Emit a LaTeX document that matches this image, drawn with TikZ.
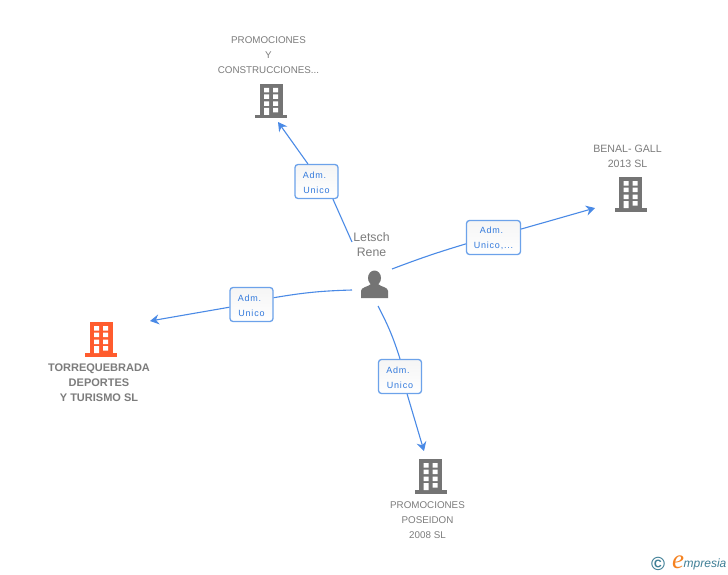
\documentclass[tikz,border=0pt]{standalone}
\usepackage{fontspec}
\setmainfont{Liberation Sans}
\newfontfamily\Sboxfont[LetterSpace=9]{Liberation Sans}
\newfontfamily\Slogofont{Liberation Serif}
\usetikzlibrary{arrows.meta}
\definecolor{darkgrey}{HTML}{7C7C7C}
\definecolor{icongrey}{HTML}{747474}
\definecolor{iconred}{HTML}{FF5C2E}
\definecolor{linkblue}{HTML}{4A8AE6}
\definecolor{boxblue}{HTML}{6CA2EA}
\definecolor{textblue}{HTML}{3279DC}
\definecolor{logoteal}{HTML}{3F7F96}
\definecolor{logoorange}{HTML}{F58220}
\newcommand{\Sadm}{\rule{0pt}{9pt}Adm.\kern4pt}
\tikzset{
  firm/.style={align=center,text=darkgrey,inner sep=0pt,font=\fontsize{9.8}{15}\selectfont},
  mainfirm/.style={firm,font=\fontsize{11}{15}\selectfont\bfseries},
  role/.style={draw=boxblue,line width=1.3pt,rounded corners=3pt,top color=black!4,bottom color=white,
    minimum height=34pt,inner sep=0pt,align=center,text=textblue,font=\fontsize{9}{15}\selectfont\Sboxfont},
  link/.style={linkblue,line width=1.1pt},
  linkarrow/.style={link,-{Stealth[length=9pt,width=10pt,inset=3pt]}},
  building/.pic={
    \fill (-11.5,-17) rectangle (11.5,15);
    \fill (-16,14) rectangle (16,17.5);
    \fill[white] (-7,-13) rectangle (-2,-8.5) (2,-13) rectangle (7,-8.5);
    \fill[white] (-7,-6.5) rectangle (-2,-2) (2,-6.5) rectangle (7,-2);
    \fill[white] (-7,0.5) rectangle (-2,5) (2,0.5) rectangle (7,5);
    \fill[white] (-7,7) rectangle (-2,14) (2,7) rectangle (7,11.5);
  }
}
\begin{document}
\begin{tikzpicture}[x=1pt,y=-1pt]
\useasboundingbox[fill=white] (0,0) rectangle (728,575);
% buildings
\pic[icongrey] at (271,101) {building};
\pic[icongrey] at (630.5,194) {building};
\pic[icongrey] at (430.5,476) {building};
\pic[iconred] at (101,339) {building};
%
\fill[icongrey] (374.5,278) ellipse (6.5 and 7.5);
\fill[icongrey] (361,298) -- (361,291) .. controls (361,287) and (368,287) .. (371,284)
  -- (378,284) .. controls (381,287) and (388,287) .. (388,291) -- (388,298) -- cycle;
%
\node (person) [firm,font=\fontsize{12.3}{15}\selectfont] at (371.5,244.5) {Letsch\\Rene};
\node (f1) [firm] at (268.5,55) {PROMOCIONES\\Y\\CONSTRUCCIONES...};
\node (f2) [firm,font=\fontsize{10.6}{15}\selectfont] at (627.5,156.5) {BENAL- GALL\\2013 SL};
\node (f3) [firm] at (427.5,520.5) {PROMOCIONES\\POSEIDON\\2008 SL};
\node (f4) [mainfirm] at (99,382.5) {TORREQUEBRADA\\DEPORTES\\Y TURISMO SL};
%
\node (r1) [role,minimum width=43pt] at (316.5,181.5) {\Sadm\\Unico};
\node (r2) [role,minimum width=54pt] at (493.5,237.5) {\Sadm\\Unico,...};
\node (r3) [role,minimum width=43pt] at (400,376.5) {\Sadm\\Unico};
\node (r4) [role,minimum width=43pt] at (251.5,304.5) {\Sadm\\Unico};
%
\coordinate (s1) at (352,242);
\coordinate (s2) at (392,269);
\coordinate (s3) at (378,306);
\coordinate (s4) at (352,290);
\coordinate (t1) at (278,122);
\coordinate (t2) at (595,208);
\coordinate (t3) at (424,451);
\coordinate (t4) at (150,321);
%
\path[link](s1) edge (r1.-47);
\path[linkarrow](r1.116) edge (t1);
\path[link,bend left=2](s2) edge (r2.193);
\path[linkarrow](r2.17) edge (t2);
\path[link,bend left=5](s3) edge (r3.90);
\path[linkarrow](r3.-68) edge (t3);
\path[link,bend right=4](s4) edge (r4.17);
\path[linkarrow](r4.187) edge (t4);
%
\node (logoc) [text=logoteal,inner sep=0pt,font=\fontsize{19}{19}\selectfont\bfseries] at (658,563.5) {©};
\node (logoe) [text=logoorange,inner sep=0pt,font=\fontsize{27}{27}\selectfont\Slogofont\itshape] at (678,562) {e};
\node (logot) [text=logoteal,inner sep=0pt,anchor=west,font=\fontsize{12}{13}\selectfont\itshape] at (683.5,564) {mpresia};
\end{tikzpicture}
\end{document}
